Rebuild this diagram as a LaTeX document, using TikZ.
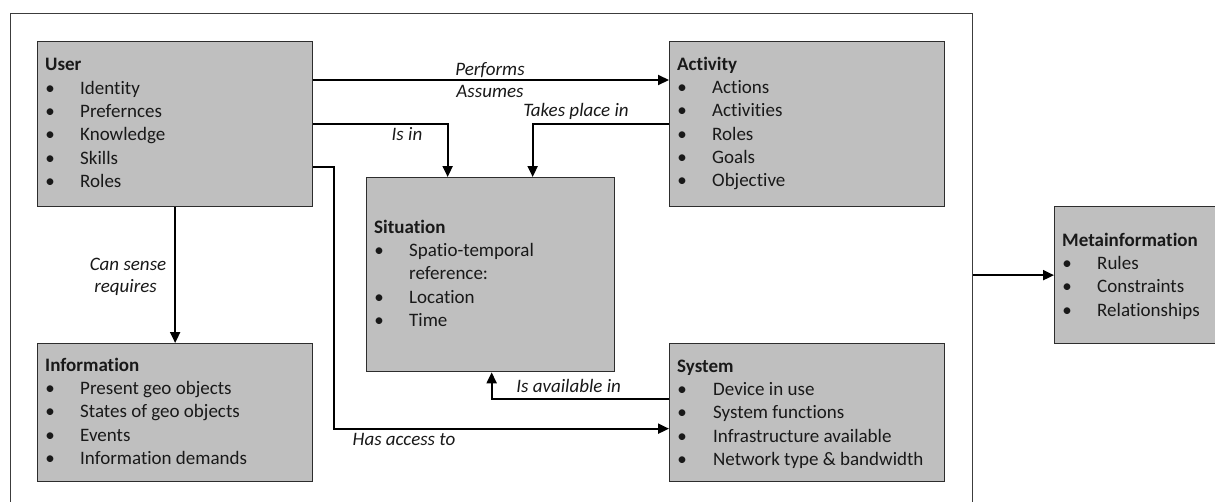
\documentclass[tikz,border=0pt]{standalone}
\usepackage{fontspec}
\setmainfont{Carlito}[Ligatures={NoCommon,NoRare,NoDiscretionary}]
\usetikzlibrary{arrows.meta,calc}
\definecolor{boxfill}{RGB}{191,191,191}
\definecolor{boxline}{RGB}{45,45,45}
\definecolor{frameline}{RGB}{60,60,60}
\newcommand\myitem[1]{\makebox[10pt]{\textbullet} & #1\\}
\newcommand\mytitle[1]{\multicolumn{2}{@{}l@{}}{\bfseries #1}\\}
\begin{document}
\begin{tikzpicture}[x=1pt,y=-1pt,
  box/.style={draw=boxline, line width=1.3pt, fill=boxfill, anchor=north west, inner sep=0pt},
  txt/.style={anchor=north west, inner sep=0pt, font=\fontsize{19}{23.3}\selectfont, text=black!90},
  lbl/.style={anchor=base, inner sep=0pt, font=\fontsize{19}{23.3}\selectfont\itshape, text=black!90},
  conn/.style={line width=2pt, draw=black},
  arr/.style={conn, -{Triangle[length=11pt,width=10pt]}}]
\clip (0,0) rectangle (1215,501);
\node[draw=frameline, line width=1pt, anchor=north west, minimum width=962pt, minimum height=500pt, inner sep=0pt] (frame) at (10,13) {};

% boxes
\node[box, minimum width=275pt, minimum height=165pt] (user) at (37,41) {};
\node[box, minimum width=275pt, minimum height=165pt] (act) at (669,41) {};
\node[box, minimum width=248pt, minimum height=194pt] (sit) at (366,177) {};
\node[box, minimum width=275pt, minimum height=138pt] (info) at (37,343) {};
\node[box, minimum width=275pt, minimum height=138pt] (sys) at (669,343) {};
\node[box, minimum width=200pt, minimum height=137pt] (meta) at (1054,206) {};

% texts
\node[txt] (usert) at ([xshift=8pt,yshift=-13.4pt]user.north west) {\begin{tabular}{@{}p{35pt}@{}l@{}}
\mytitle{User}
\myitem{Identity}
\myitem{Prefernces}
\myitem{Knowledge}
\myitem{Skills}
\myitem{Roles}
\end{tabular}};
\node[txt] (actt) at ([xshift=8pt,yshift=-12.7pt]act.north west) {\begin{tabular}{@{}p{35pt}@{}l@{}}
\mytitle{Activity}
\myitem{Actions}
\myitem{Activities}
\myitem{Roles}
\myitem{Goals}
\myitem{Objective}
\end{tabular}};
\node[txt] (sitt) at ([xshift=8pt,yshift=-39.7pt]sit.north west) {\begin{tabular}{@{}p{35pt}@{}l@{}}
\mytitle{Situation}
\myitem{Spatio-temporal}
 & reference:\\
\myitem{Location}
\myitem{Time}
\end{tabular}};
\node[txt] (infot) at ([xshift=8pt,yshift=-11.7pt]info.north west) {\begin{tabular}{@{}p{35pt}@{}l@{}}
\mytitle{Information}
\myitem{Present geo objects}
\myitem{States of geo objects}
\myitem{Events}
\myitem{Information demands}
\end{tabular}};
\node[txt] (syst) at ([xshift=8pt,yshift=-12.7pt]sys.north west) {\begin{tabular}{@{}p{36pt}@{}l@{}}
\mytitle{System}
\myitem{Device in use}
\myitem{System functions}
\myitem{Infrastructure available}
\myitem{Network type \& bandwidth}
\end{tabular}};
\node[txt] (metat) at ([xshift=8pt,yshift=-23.7pt]meta.north west) {\begin{tabular}{@{}p{35pt}@{}l@{}}
\mytitle{Metainformation}
\myitem{Rules}
\myitem{Constraints}
\myitem{Relationships}
\end{tabular}};

% connectors
\draw[arr] ($(user.north east)+(0,39)$) -- ($(act.north west)+(0,39)$);
\draw[arr] (user.east) -| ($(sit.north)+(-43,0)$);
\draw[arr] (act.west) -| ($(sit.north)+(42,0)$);
\draw[arr] (user.south) -- (info.north);
\draw[arr] ($(user.north east)+(0,126)$) -- ++(21,0) |- ($(sys.west)+(0,16)$);
\draw[arr] ($(sys.west)+(0,-14)$) -| ($(sit.south)+(1,0)$);
\draw[arr] (meta.west -| frame.east) -- (meta.west);

% labels
\node[lbl] (lperf) at (490,75) {Performs};
\node[lbl] (lass) at (490,97.3) {Assumes};
\node[lbl] (ltake) at (576,116) {Takes place in};
\node[lbl] (lisin) at (407,140) {Is in};
\node[lbl] (lcan) at (128,270) {Can sense};
\node[lbl] (lreq) at (125.5,292) {requires};
\node[lbl] (lavail) at (568.7,392.7) {Is available in};
\node[lbl] (lacc) at (404,445) {Has access to};
\end{tikzpicture}
\end{document}
